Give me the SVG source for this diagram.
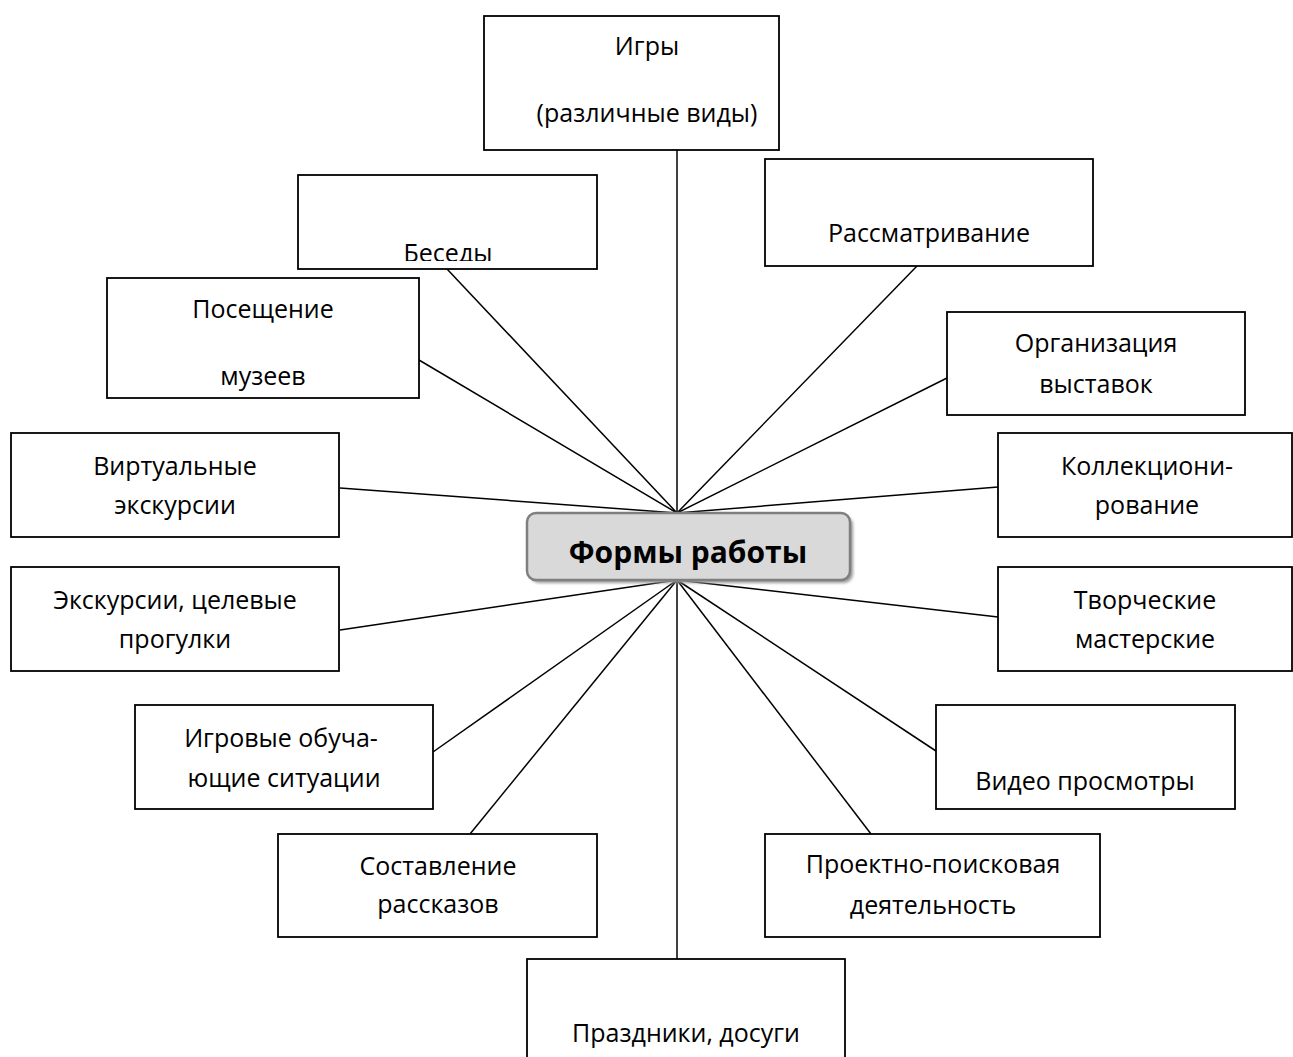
<svg xmlns="http://www.w3.org/2000/svg" width="1293" height="1057" viewBox="0 0 1293 1057">
<style>
.box{fill:#fff;stroke:#000;stroke-width:1.8}
.t{font-family:"Open Sans","Noto Sans","DejaVu Sans",sans-serif;font-size:25px;fill:#000;text-anchor:middle}
.c{stroke:#000;stroke-width:1.5;fill:none}
.hub{fill:#d9d9d9;stroke:#7f7f7f;stroke-width:2.5}
.ht{font-family:"Open Sans","Noto Sans","DejaVu Sans",sans-serif;font-size:30px;font-weight:bold;fill:#000;text-anchor:middle}
</style>
<defs>
<clipPath id="clipBesedy"><rect x="298" y="175" width="299" height="86"/></clipPath>
<filter id="sh" x="-10%" y="-20%" width="120%" height="150%"><feGaussianBlur stdDeviation="1.5"/></filter>
</defs>
<rect width="1293" height="1057" fill="#fff"/>
<g id="connectors">
<line class="c" x1="677" y1="150" x2="677" y2="513"/>
<line class="c" x1="447" y1="269" x2="677" y2="513"/>
<line class="c" x1="419" y1="360" x2="677" y2="513"/>
<line class="c" x1="340" y1="488" x2="677" y2="513"/>
<line class="c" x1="917" y1="266" x2="677" y2="513"/>
<line class="c" x1="947" y1="378" x2="677" y2="513"/>
<line class="c" x1="998" y1="487" x2="677" y2="513"/>
<line class="c" x1="340" y1="630" x2="677" y2="580"/>
<line class="c" x1="998" y1="617" x2="677" y2="580"/>
<line class="c" x1="433" y1="752" x2="677" y2="580"/>
<line class="c" x1="936" y1="751" x2="677" y2="580"/>
<line class="c" x1="470" y1="834" x2="677" y2="580"/>
<line class="c" x1="871" y1="834" x2="677" y2="580"/>
<line class="c" x1="677" y1="959" x2="677" y2="580"/>
</g>
<g id="igry"><rect class="box" x="484" y="16" width="295" height="134"/><text class="t" x="647" y="55">Игры</text><text class="t" x="647" y="122">(различные виды)</text></g>
<g id="besedy"><rect class="box" x="298" y="175" width="299" height="94"/><text class="t" x="448" y="262" clip-path="url(#clipBesedy)">Беседы</text></g>
<g id="rassmatrivanie"><rect class="box" x="765" y="159" width="328" height="107"/><text class="t" x="929" y="242">Рассматривание</text></g>
<g id="poseshchenie"><rect class="box" x="107" y="278" width="312" height="120"/><text class="t" x="263" y="318">Посещение</text><text class="t" x="263" y="385">музеев</text></g>
<g id="organizatsiya"><rect class="box" x="947" y="312" width="298" height="103"/><text class="t" x="1096" y="352">Организация</text><text class="t" x="1096" y="393">выставок</text></g>
<g id="virtualnye"><rect class="box" x="11" y="433" width="328" height="104"/><text class="t" x="175" y="475">Виртуальные</text><text class="t" x="175" y="514">экскурсии</text></g>
<g id="kollektsionirovanie"><rect class="box" x="998" y="433" width="294" height="104"/><text class="t" x="1147" y="475">Коллекциони-</text><text class="t" x="1147" y="514">рование</text></g>
<g id="ekskursii"><rect class="box" x="11" y="567" width="328" height="104"/><text class="t" x="175" y="609">Экскурсии, целевые</text><text class="t" x="175" y="648">прогулки</text></g>
<g id="tvorcheskie"><rect class="box" x="998" y="567" width="294" height="104"/><text class="t" x="1145" y="609">Творческие</text><text class="t" x="1145" y="648">мастерские</text></g>
<g id="igrovye"><rect class="box" x="135" y="705" width="298" height="104"/><text class="t" x="281" y="747">Игровые обуча-</text><text class="t" x="284" y="787">ющие ситуации</text></g>
<g id="video"><rect class="box" x="936" y="705" width="299" height="104"/><text class="t" x="1085" y="790">Видео просмотры</text></g>
<g id="sostavlenie"><rect class="box" x="278" y="834" width="319" height="103"/><text class="t" x="438" y="875">Составление</text><text class="t" x="438" y="913">рассказов</text></g>
<g id="proektno"><rect class="box" x="765" y="834" width="335" height="103"/><text class="t" x="933" y="873">Проектно-поисковая</text><text class="t" x="933" y="914">деятельность</text></g>
<g id="prazdniki"><rect class="box" x="527" y="959" width="318" height="110"/><text class="t" x="686" y="1042">Праздники, досуги</text></g>
<g id="formy">
<rect x="530" y="516" width="323" height="67" rx="9" fill="#9a9a9a" filter="url(#sh)"/>
<rect class="hub" x="527" y="513" width="323" height="67" rx="9"/>
<text class="ht" x="688" y="563">Формы работы</text>
</g>
</svg>
